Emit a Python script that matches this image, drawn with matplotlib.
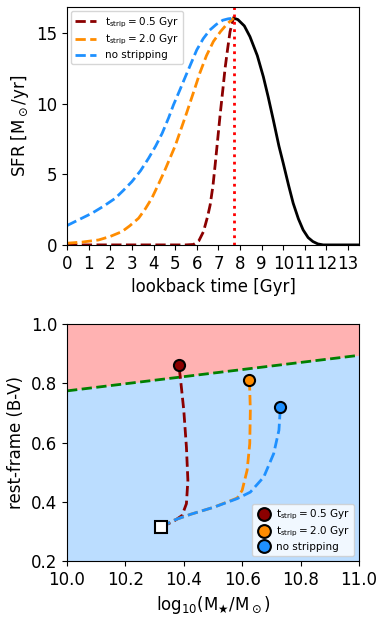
import matplotlib
matplotlib.use('Agg')
import matplotlib.pyplot as plt
import numpy as np

# --- data ---
t_peak = 7.7
# black: SFR before stripping (lookback time > t_peak)
t_old = [7.7, 7.9, 8.2, 8.46, 8.8, 9.08, 9.3, 9.54, 9.8, 10.0, 10.25, 10.46, 10.7, 10.92, 11.15, 11.37, 11.6, 11.85, 12.5, 13.5]
sfr_old = [16.05, 15.95, 15.5, 14.74, 13.4, 11.9, 10.5, 8.85, 7.0, 5.78, 4.2, 2.95, 1.85, 1.06, 0.52, 0.24, 0.07, 0.0, 0.0, 0.0]

t_strip05 = [0.0, 5.5, 5.85, 6.1, 6.31, 6.5, 6.62, 6.75, 6.85, 6.97, 7.08, 7.2, 7.31, 7.43, 7.54, 7.7]
sfr_strip05 = [0.0, 0.0, 0.03, 0.3, 0.94, 2.0, 2.83, 4.2, 5.66, 7.5, 9.2, 10.9, 12.5, 13.9, 15.1, 16.05]

t_strip20 = [0.0, 0.7, 1.46, 2.0, 2.54, 2.9, 3.31, 3.62, 3.92, 4.2, 4.5, 5.0, 5.5, 5.85, 6.15, 6.45, 6.77, 7.1, 7.38, 7.7]
sfr_strip20 = [0.12, 0.2, 0.35, 0.6, 0.94, 1.35, 1.89, 2.55, 3.3, 4.2, 5.2, 7.0, 9.2, 10.8, 12.2, 13.4, 14.4, 15.1, 15.6, 16.05]

t_nostrip = [0.0, 0.5, 1.15, 1.7, 2.23, 2.6, 3.0, 3.4, 3.77, 4.1, 4.4, 4.7, 4.92, 5.2, 5.5, 6.0, 6.3, 6.6, 6.9, 7.2, 7.45, 7.7]
sfr_nostrip = [1.37, 1.75, 2.24, 2.75, 3.3, 3.85, 4.48, 5.25, 6.13, 7.0, 7.9, 9.0, 9.9, 10.9, 12.0, 13.8, 14.6, 15.2, 15.6, 15.9, 16.0, 16.05]

# colour-mass tracks
m_strip05 = [10.322, 10.366, 10.394, 10.409, 10.414, 10.409, 10.400, 10.388, 10.383]
c_strip05 = [0.315, 0.335, 0.354, 0.394, 0.473, 0.585, 0.709, 0.822, 0.861]

m_strip20 = [10.322, 10.366, 10.423, 10.503, 10.583, 10.600, 10.617, 10.626, 10.628, 10.625]
c_strip20 = [0.315, 0.338, 0.358, 0.382, 0.413, 0.439, 0.507, 0.597, 0.709, 0.811]

m_nostrip = [10.322, 10.366, 10.423, 10.503, 10.583, 10.628, 10.674, 10.708, 10.726, 10.731]
c_nostrip = [0.315, 0.338, 0.358, 0.382, 0.411, 0.433, 0.484, 0.563, 0.642, 0.72]

m_start, c_start = 10.322, 0.315
# red sequence dividing line
m_line = [10.0, 11.0]
c_line = [0.775, 0.895]

labels = [r'$\mathrm{t_{strip}=0.5\ Gyr}$', r'$\mathrm{t_{strip}=2.0\ Gyr}$', 'no stripping']
colors = ['darkred', 'darkorange', 'dodgerblue']

fig = plt.figure(figsize=(3.81, 6.2), dpi=100)
ax1 = fig.add_axes([0.176, 0.605, 0.766, 0.384])
ax2 = fig.add_axes([0.176, 0.095, 0.766, 0.382])

# top panel
ax1.plot(t_old, sfr_old, 'k-', lw=2)
ax1.plot(t_strip05, sfr_strip05, '--', color=colors[0], lw=2, label=labels[0])
ax1.plot(t_strip20, sfr_strip20, '--', color=colors[1], lw=2, label=labels[1])
ax1.plot(t_nostrip, sfr_nostrip, '--', color=colors[2], lw=2, label=labels[2])
ax1.axvline(t_peak, color='red', ls=':', lw=2)
ax1.set_xlim(0, 13.5)
ax1.set_ylim(0, 16.85)
ax1.set_xticks(np.arange(0, 14, 1))
ax1.set_yticks([0, 5, 10, 15])
ax1.tick_params(labelsize=12)
ax1.set_xlabel('lookback time [Gyr]', fontsize=12)
ax1.set_ylabel(r'SFR [M$_\odot$/yr]', fontsize=12)
ax1.legend(loc='upper left', fontsize=7.5, labelspacing=0.3, borderaxespad=0.4)

# bottom panel
mm = np.array(m_line)
cc = np.array(c_line)
ax2.fill_between(mm, cc, 1.0, color='red', alpha=0.3, lw=0)
ax2.fill_between(mm, 0.2, cc, color='dodgerblue', alpha=0.3, lw=0)
ax2.plot(m_line, c_line, '--', color='green', lw=2)
tracks = [(m_strip05, c_strip05), (m_strip20, c_strip20), (m_nostrip, c_nostrip)]
for (m, c), col, lab in zip(tracks, colors, labels):
    ax2.plot(m, c, '--', color=col, lw=2)
    ax2.plot(m[-1], c[-1], 'o', color=col, mec='k', mew=1.5, ms=8, label=lab)
ax2.plot(m_start, c_start, 's', mfc='white', mec='k', mew=1.5, ms=8)
ax2.set_xlim(10.0, 11.0)
ax2.set_ylim(0.2, 1.0)
ax2.set_xticks([10.0, 10.2, 10.4, 10.6, 10.8, 11.0])
ax2.set_yticks([0.2, 0.4, 0.6, 0.8, 1.0])
ax2.tick_params(labelsize=12)
ax2.set_xlabel(r'log$_{10}$(M$_\bigstar$/M$_\odot$)', fontsize=12)
ax2.set_ylabel('rest-frame (B-V)', fontsize=12)
ax2.legend(loc='lower right', fontsize=7.5, handletextpad=0.4, labelspacing=0.25,
           borderpad=0.4, handlelength=1.5, markerscale=1.15)

fig.savefig('out.png', dpi=100)
